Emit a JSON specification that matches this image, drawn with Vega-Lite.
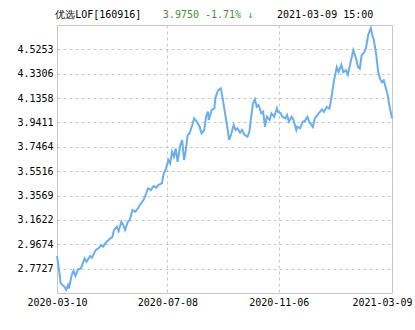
{
  "$schema": "https://vega.github.io/schema/vega-lite/v6.json",
  "autosize": "none",
  "width": 335,
  "height": 268,
  "padding": {"left": 57, "top": 25, "right": 23, "bottom": 37},
  "background": "#ffffff",
  "config": {
    "view": {"stroke": "#c4c4c4", "strokeWidth": 1},
    "axis": {
      "labelFont": "DejaVu Sans Mono",
      "labelFontSize": 10,
      "labelColor": "#000000",
      "labelOverlap": false,
      "grid": true,
      "gridColor": "#c8c8c8",
      "gridDash": [3, 3],
      "ticks": false,
      "tickSize": 0,
      "domain": false,
      "title": null
    }
  },
  "layer": [
    {
      "data": {
        "values": [
          {"date": "2020-03-10", "nav": 2.873},
          {"date": "2020-03-12", "nav": 2.775},
          {"date": "2020-03-14", "nav": 2.655},
          {"date": "2020-03-18", "nav": 2.628},
          {"date": "2020-03-20", "nav": 2.602},
          {"date": "2020-03-22", "nav": 2.642},
          {"date": "2020-03-23", "nav": 2.615},
          {"date": "2020-03-26", "nav": 2.722},
          {"date": "2020-03-28", "nav": 2.756},
          {"date": "2020-03-30", "nav": 2.714},
          {"date": "2020-04-02", "nav": 2.767},
          {"date": "2020-04-05", "nav": 2.775},
          {"date": "2020-04-09", "nav": 2.855},
          {"date": "2020-04-11", "nav": 2.828},
          {"date": "2020-04-15", "nav": 2.873},
          {"date": "2020-04-17", "nav": 2.860},
          {"date": "2020-04-21", "nav": 2.921},
          {"date": "2020-04-24", "nav": 2.935},
          {"date": "2020-04-27", "nav": 2.961},
          {"date": "2020-04-29", "nav": 2.948},
          {"date": "2020-05-03", "nav": 2.988},
          {"date": "2020-05-07", "nav": 3.015},
          {"date": "2020-05-09", "nav": 3.023},
          {"date": "2020-05-11", "nav": 3.081},
          {"date": "2020-05-14", "nav": 3.108},
          {"date": "2020-05-16", "nav": 3.073},
          {"date": "2020-05-19", "nav": 3.148},
          {"date": "2020-05-21", "nav": 3.121},
          {"date": "2020-05-23", "nav": 3.081},
          {"date": "2020-05-26", "nav": 3.148},
          {"date": "2020-05-28", "nav": 3.161},
          {"date": "2020-05-31", "nav": 3.241},
          {"date": "2020-06-03", "nav": 3.228},
          {"date": "2020-06-06", "nav": 3.255},
          {"date": "2020-06-08", "nav": 3.281},
          {"date": "2020-06-12", "nav": 3.321},
          {"date": "2020-06-15", "nav": 3.375},
          {"date": "2020-06-17", "nav": 3.415},
          {"date": "2020-06-20", "nav": 3.401},
          {"date": "2020-06-23", "nav": 3.433},
          {"date": "2020-06-26", "nav": 3.420},
          {"date": "2020-06-28", "nav": 3.441},
          {"date": "2020-07-02", "nav": 3.455},
          {"date": "2020-07-04", "nav": 3.535},
          {"date": "2020-07-06", "nav": 3.561},
          {"date": "2020-07-09", "nav": 3.641},
          {"date": "2020-07-11", "nav": 3.614},
          {"date": "2020-07-13", "nav": 3.707},
          {"date": "2020-07-15", "nav": 3.667},
          {"date": "2020-07-17", "nav": 3.734},
          {"date": "2020-07-19", "nav": 3.627},
          {"date": "2020-07-22", "nav": 3.761},
          {"date": "2020-07-24", "nav": 3.801},
          {"date": "2020-07-26", "nav": 3.641},
          {"date": "2020-07-28", "nav": 3.721},
          {"date": "2020-07-30", "nav": 3.841},
          {"date": "2020-08-01", "nav": 3.854},
          {"date": "2020-08-04", "nav": 3.921},
          {"date": "2020-08-06", "nav": 3.974},
          {"date": "2020-08-09", "nav": 3.947},
          {"date": "2020-08-12", "nav": 3.907},
          {"date": "2020-08-14", "nav": 3.854},
          {"date": "2020-08-17", "nav": 3.881},
          {"date": "2020-08-19", "nav": 3.987},
          {"date": "2020-08-21", "nav": 4.027},
          {"date": "2020-08-22", "nav": 3.961},
          {"date": "2020-08-25", "nav": 4.041},
          {"date": "2020-08-28", "nav": 4.054},
          {"date": "2020-08-29", "nav": 4.134},
          {"date": "2020-09-01", "nav": 4.200},
          {"date": "2020-09-04", "nav": 4.214},
          {"date": "2020-09-06", "nav": 4.134},
          {"date": "2020-09-08", "nav": 4.041},
          {"date": "2020-09-11", "nav": 3.907},
          {"date": "2020-09-13", "nav": 3.801},
          {"date": "2020-09-15", "nav": 3.841},
          {"date": "2020-09-18", "nav": 3.921},
          {"date": "2020-09-20", "nav": 3.881},
          {"date": "2020-09-22", "nav": 3.894},
          {"date": "2020-09-25", "nav": 3.859},
          {"date": "2020-09-27", "nav": 3.881},
          {"date": "2020-09-30", "nav": 3.841},
          {"date": "2020-10-03", "nav": 3.827},
          {"date": "2020-10-05", "nav": 3.867},
          {"date": "2020-10-07", "nav": 3.987},
          {"date": "2020-10-09", "nav": 4.094},
          {"date": "2020-10-11", "nav": 4.126},
          {"date": "2020-10-13", "nav": 4.067},
          {"date": "2020-10-15", "nav": 4.081},
          {"date": "2020-10-18", "nav": 4.014},
          {"date": "2020-10-20", "nav": 4.027},
          {"date": "2020-10-22", "nav": 3.907},
          {"date": "2020-10-24", "nav": 3.987},
          {"date": "2020-10-27", "nav": 3.961},
          {"date": "2020-10-29", "nav": 4.014},
          {"date": "2020-11-01", "nav": 3.987},
          {"date": "2020-11-04", "nav": 4.054},
          {"date": "2020-11-05", "nav": 4.027},
          {"date": "2020-11-08", "nav": 4.014},
          {"date": "2020-11-10", "nav": 3.987},
          {"date": "2020-11-13", "nav": 3.974},
          {"date": "2020-11-15", "nav": 4.001},
          {"date": "2020-11-17", "nav": 3.947},
          {"date": "2020-11-20", "nav": 3.987},
          {"date": "2020-11-22", "nav": 3.961},
          {"date": "2020-11-25", "nav": 3.881},
          {"date": "2020-11-26", "nav": 3.907},
          {"date": "2020-11-29", "nav": 3.894},
          {"date": "2020-12-02", "nav": 3.947},
          {"date": "2020-12-04", "nav": 3.950},
          {"date": "2020-12-07", "nav": 3.987},
          {"date": "2020-12-09", "nav": 3.947},
          {"date": "2020-12-13", "nav": 3.905},
          {"date": "2020-12-15", "nav": 3.971},
          {"date": "2020-12-19", "nav": 4.011},
          {"date": "2020-12-23", "nav": 4.046},
          {"date": "2020-12-25", "nav": 4.025},
          {"date": "2020-12-28", "nav": 4.065},
          {"date": "2020-12-31", "nav": 4.051},
          {"date": "2021-01-02", "nav": 4.131},
          {"date": "2021-01-05", "nav": 4.278},
          {"date": "2021-01-08", "nav": 4.384},
          {"date": "2021-01-10", "nav": 4.344},
          {"date": "2021-01-13", "nav": 4.403},
          {"date": "2021-01-15", "nav": 4.344},
          {"date": "2021-01-18", "nav": 4.358},
          {"date": "2021-01-20", "nav": 4.323},
          {"date": "2021-01-23", "nav": 4.424},
          {"date": "2021-01-26", "nav": 4.518},
          {"date": "2021-01-29", "nav": 4.451},
          {"date": "2021-01-31", "nav": 4.384},
          {"date": "2021-02-02", "nav": 4.371},
          {"date": "2021-02-04", "nav": 4.478},
          {"date": "2021-02-07", "nav": 4.504},
          {"date": "2021-02-09", "nav": 4.544},
          {"date": "2021-02-11", "nav": 4.638},
          {"date": "2021-02-14", "nav": 4.696},
          {"date": "2021-02-16", "nav": 4.624},
          {"date": "2021-02-17", "nav": 4.610},
          {"date": "2021-02-20", "nav": 4.478},
          {"date": "2021-02-22", "nav": 4.344},
          {"date": "2021-02-24", "nav": 4.291},
          {"date": "2021-02-26", "nav": 4.264},
          {"date": "2021-02-28", "nav": 4.278},
          {"date": "2021-03-02", "nav": 4.224},
          {"date": "2021-03-04", "nav": 4.171},
          {"date": "2021-03-06", "nav": 4.080},
          {"date": "2021-03-09", "nav": 3.975}
        ]
      },
      "mark": {"type": "line", "color": "#6aaeec", "strokeWidth": 2, "interpolate": "linear"},
      "encoding": {
        "x": {
          "field": "date",
          "type": "temporal",
          "scale": {
            "type": "utc",
            "domain": [
              {"year": 2020, "month": 3, "date": 10, "utc": true},
              {"year": 2021, "month": 3, "date": 9, "utc": true}
            ]
          },
          "axis": {
            "values": [
              {"year": 2020, "month": 3, "date": 10, "utc": true},
              {"year": 2020, "month": 7, "date": 8, "utc": true},
              {"year": 2020, "month": 11, "date": 6, "utc": true},
              {"year": 2021, "month": 3, "date": 9, "utc": true}
            ],
            "tickCount": 20,
            "format": "%Y-%m-%d",
            "labelPadding": 4,
            "labelAlign": "center",
            "labelOffset": {"condition": {"test": "utcyear(datum.value) == 2021", "value": -10}, "value": 0}
          }
        },
        "y": {
          "field": "nav",
          "type": "quantitative",
          "scale": {"domain": [2.578, 4.72], "zero": false, "nice": false},
          "axis": {
            "values": [2.7727, 2.9674, 3.1622, 3.3569, 3.5516, 3.7464, 3.9411, 4.1358, 4.3306, 4.5253],
            "tickCount": 20,
            "format": ".4f",
            "labelPadding": 4
          }
        }
      }
    },
    {
      "data": {"values": [{"label": "优选LOF[160916]"}]},
      "mark": {"type": "text", "align": "left", "baseline": "middle", "font": "DejaVu Sans Mono", "fontSize": 10, "color": "#000000"},
      "encoding": {
        "x": {"datum": {"year": 2020, "month": 3, "date": 8, "utc": true}, "type": "temporal"},
        "y": {"datum": 4.80, "type": "quantitative"},
        "text": {"field": "label"}
      }
    },
    {
      "data": {"values": [{"label": "3.9750  -1.71% ↓"}]},
      "mark": {"type": "text", "align": "left", "baseline": "middle", "font": "DejaVu Sans Mono", "fontSize": 10, "color": "#3f8f3f"},
      "encoding": {
        "x": {"datum": {"year": 2020, "month": 7, "date": 3, "utc": true}, "type": "temporal"},
        "y": {"datum": 4.80, "type": "quantitative"},
        "text": {"field": "label"}
      }
    },
    {
      "data": {"values": [{"label": "2021-03-09 15:00"}]},
      "mark": {"type": "text", "align": "left", "baseline": "middle", "font": "DejaVu Sans Mono", "fontSize": 10, "color": "#000000"},
      "encoding": {
        "x": {"datum": {"year": 2020, "month": 11, "date": 4, "utc": true}, "type": "temporal"},
        "y": {"datum": 4.80, "type": "quantitative"},
        "text": {"field": "label"}
      }
    }
  ]
}
